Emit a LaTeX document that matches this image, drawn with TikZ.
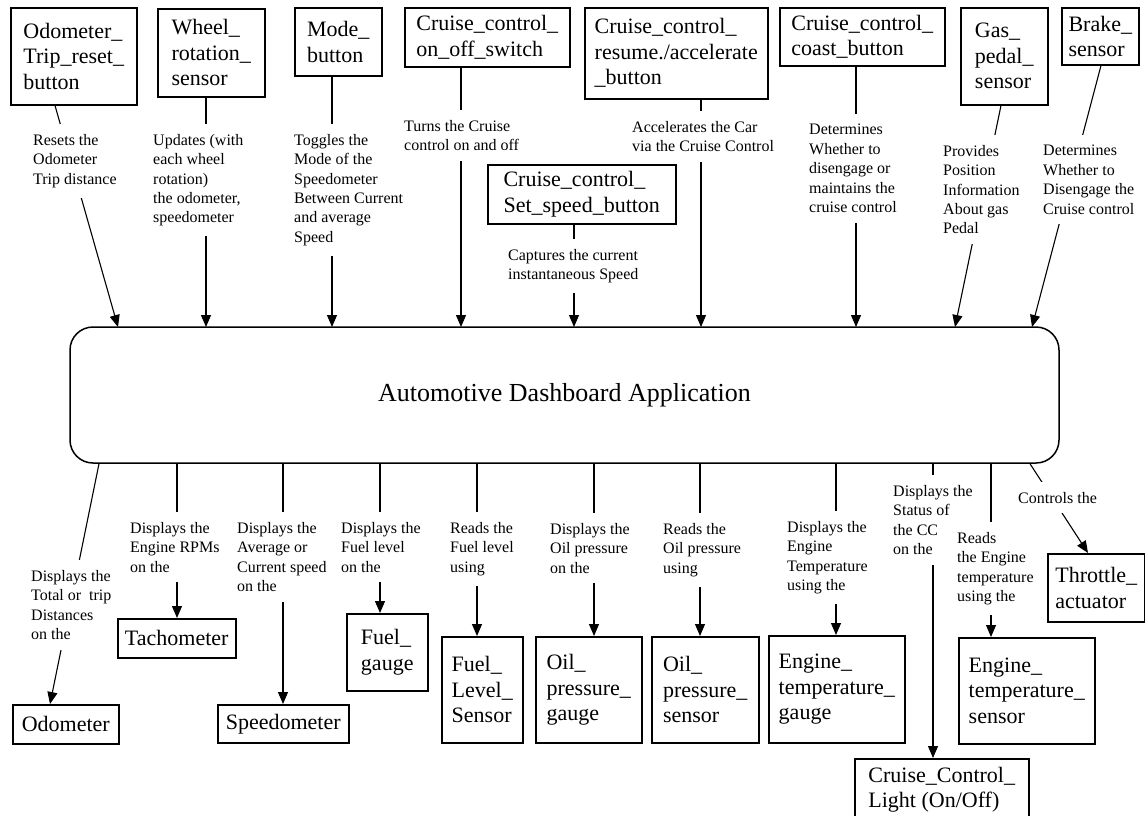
\documentclass[tikz,border=0pt]{standalone}
\usepackage{fontspec}
\setmainfont{Liberation Serif}
\usetikzlibrary{arrows.meta}

\begin{document}
\begin{tikzpicture}[x=1pt,y=-1pt,
  unit/.style={draw, line width=1.5pt, anchor=north west, align=left, inner sep=0pt, font=\fontsize{22}{25.5}\selectfont},
  note/.style={fill=white, anchor=north west, align=left, inner xsep=1pt, inner ysep=10pt, font=\fontsize{16}{19.4}\selectfont},
  flow/.style={line width=1.1pt, -{Triangle[length=12pt,width=10pt]}}]
\useasboundingbox (0,0) rectangle (1145,815);

% inputs
\node[unit, minimum width=126, minimum height=97] (odoreset) at (10,7) {Odometer\_\\Trip\_reset\_\\button};
\node[unit, minimum width=107, minimum height=88] (wheel) at (157,8) {Wheel\_\\rotation\_\\sensor};
\node[unit, minimum width=87, minimum height=68] (mode) at (294,7) {Mode\_\\button};
\node[unit, minimum width=165, minimum height=59] (onoff) at (404,7) {Cruise\_control\_\\on\_off\_switch};
\node[unit, minimum width=183, minimum height=91] (resume) at (584,7) {Cruise\_control\_\\resume./accelerate\\\_button};
\node[unit, minimum width=165, minimum height=58] (coast) at (779,7) {Cruise\_control\_\\coast\_button};
\node[unit, minimum width=87, minimum height=97] (gas) at (960,7) {Gas\_\\pedal\_\\sensor};
\node[unit, minimum width=77, minimum height=57] (brake) at (1061,7) {Brake\_\\sensor};
\node[unit, minimum width=188, minimum height=59] (setspeed) at (487,164) {Cruise\_control\_\\Set\_speed\_button};

% application
\node[draw, line width=1.5pt, rounded corners=23pt, minimum width=989, minimum height=136,
  font=\fontsize{26}{30}\selectfont] (app) at (564.5,395) {Automotive Dashboard Application\hspace{17pt}};

% outputs
\node[unit, minimum width=106, minimum height=39] (odo) at (12,704) {Odometer};
\node[unit, minimum width=118, minimum height=39] (tach) at (117,618) {Tachometer};
\node[unit, minimum width=131, minimum height=38] (speed) at (217,704) {Speedometer};
\node[unit, minimum width=81, minimum height=77] (fuelg) at (346,613) {Fuel\_\\gauge};
\node[unit, minimum width=81, minimum height=106] (fuels) at (441,636) {Fuel\_\\Level\_\\Sensor};
\node[unit, minimum width=106, minimum height=106] (oilg) at (535,636) {Oil\_\\pressure\_\\gauge};
\node[unit, minimum width=107, minimum height=106] (oils) at (651,636) {Oil\_\\pressure\_\\sensor};
\node[unit, minimum width=136, minimum height=107] (engg) at (768,635) {Engine\_\\temperature\_\\gauge};
\node[unit, minimum width=174, minimum height=62] (ccl) at (854,758) {Cruise\_Control\_\\Light (On/Off)};
\node[unit, minimum width=136, minimum height=106] (engs) at (958,637) {Engine\_\\temperature\_\\sensor};
\node[unit, minimum width=97, minimum height=68] (thr) at (1047,553) {Throttle\_\\actuator};

\coordinate (a1) at (55,104);
\coordinate (a8) at (1001,104);
\coordinate (a9) at (1101,64);
\coordinate (in1) at (118,327);
\coordinate (in2) at (206,327);
\coordinate (in3) at (332,327);
\coordinate (in4) at (461,327);
\coordinate (in5) at (574,327);
\coordinate (in6) at (701,327);
\coordinate (in7) at (856,327);
\coordinate (in8) at (955,327);
\coordinate (in9) at (1032,327);

\coordinate (out1) at (99,463);
\coordinate (out2) at (177,463);
\coordinate (out3) at (283,463);
\coordinate (out4) at (380,463);
\coordinate (out5) at (477,463);
\coordinate (out6) at (594,463);
\coordinate (out7) at (700,463);
\coordinate (out8) at (836,463);
\coordinate (out9) at (933,463);
\coordinate (out10) at (991,463);
\coordinate (out11) at (1030,463);
\coordinate (b1) at (50,704);
\coordinate (b11) at (1088,553);

\draw[flow] (odoreset.south -| a1) -- (in1);
\draw[flow] (wheel.south -| in2) -- (in2);
\draw[flow] (mode.south -| in3) -- (in3);
\draw[flow] (onoff.south -| in4) -- (in4);
\draw[flow] (setspeed.south -| in5) -- (in5);
\draw[flow] (resume.south -| in6) -- (in6);
\draw[flow] (coast.south -| in7) -- (in7);
\draw[flow] (gas.south -| a8) -- (in8);
\draw[flow] (brake.south -| a9) -- (in9);

\draw[flow] (app.south -| out1) -- (odo.north -| b1);
\draw[flow] (app.south -| out2) -- (out2 |- tach.north);
\draw[flow] (app.south -| out3) -- (out3 |- speed.north);
\draw[flow] (app.south -| out4) -- (out4 |- fuelg.north);
\draw[flow] (app.south -| out5) -- (out5 |- fuels.north);
\draw[flow] (app.south -| out6) -- (out6 |- oilg.north);
\draw[flow] (app.south -| out7) -- (out7 |- oils.north);
\draw[flow] (app.south -| out8) -- (out8 |- engg.north);
\draw[flow] (app.south -| out9) -- (out9 |- ccl.north);
\draw[flow] (app.south -| out10) -- (out10 |- engs.north);
\draw[flow] (app.south -| out11) -- (thr.north -| b11);

% labels on the connectors
\node[note] (lodoreset) at (32,124) {Resets the\\Odometer\\Trip distance};
\node[note] (lwheel) at (152,124) {Updates (with\\each wheel\\rotation)\\the odometer,\\speedometer};
\node[note] (lmode) at (293,124) {Toggles the\\Mode of the\\Speedometer\\Between Current\\and average\\Speed};
\node[note] (lonoff) at (403,110) {Turns the Cruise\\control on and off};
\node[note] (lresume) at (631,111) {Accelerates the Car\\via the Cruise Control};
\node[note] (lsetspeed) at (507,239) {Captures the current\\instantaneous Speed};
\node[note] (lcoast) at (808,114) {Determines\\Whether to\\disengage or\\maintains the\\cruise control};
\node[note] (lgas) at (942,135) {Provides\\Position\\Information\\About gas\\Pedal};
\node[note] (lbrake) at (1042,135) {Determines\\Whether to\\Disengage the\\Cruise control};

\node[note] (lodo) at (30,560) {Displays the\\Total or~ trip\\Distances\\on the};
\node[note] (ltach) at (129,512) {Displays the\\Engine RPMs\\on the};
\node[note] (lspeed) at (236,512) {Displays the\\Average or\\Current speed\\on the};
\node[note] (lfuelg) at (340,512) {Displays the\\Fuel level\\on the};
\node[note] (lfuels) at (449,512) {Reads the\\Fuel level\\using};
\node[note] (loilg) at (549,513) {Displays the\\Oil pressure\\on the};
\node[note] (loils) at (662,513) {Reads the\\Oil pressure\\using};
\node[note] (lengg) at (786,511) {Displays the\\Engine\\Temperature\\using the};
\node[note] (lccl) at (892,475) {Displays the\\Status of\\the CC\\on the};
\node[note] (lengs) at (956,522) {Reads\\the Engine\\temperature\\using the};
\node[note] (lthr) at (1017,482) {Controls the};

\end{tikzpicture}
\end{document}
